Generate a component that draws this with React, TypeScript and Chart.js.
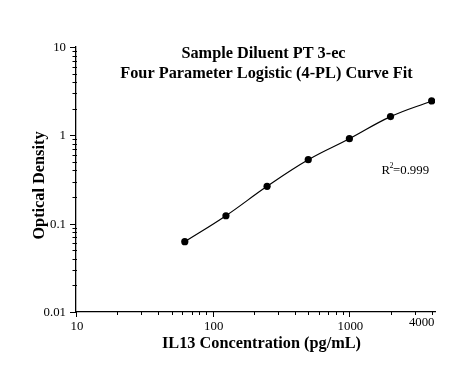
import React, { useEffect, useRef } from "react";
import { Chart, registerables } from "chart.js";

Chart.register(...registerables);

// ---- data ----
const CONCENTRATIONS = [62.5, 125, 250, 500, 1000, 2000, 4000];
const OPTICAL_DENSITY = [0.0625, 0.123, 0.265, 0.53, 0.916, 1.63, 2.45];

// ---- axes ----
const X_MIN = 10;
const X_MAX = 4230;
const Y_MIN = 0.01;
const Y_MAX = 10;
const X_MAJOR_TICKS = [10, 100, 1000];
const X_MINOR_TICKS = [20, 30, 40, 50, 60, 70, 80, 90, 200, 300, 400, 500, 600, 700, 800, 900, 2000, 3000, 4000];
const X_LABEL_VALUES = [10, 100, 1000, 4000];
const X_TICK_LABELS = ["10", "100", "1000", "4000"];
const Y_MAJOR_TICKS = [0.01, 0.1, 1, 10];
const Y_TICK_LABELS = ["0.01", "0.1", "1", "10"];
const Y_MINOR_TICKS = [
  0.02, 0.03, 0.04, 0.05, 0.06, 0.07, 0.08, 0.09,
  0.2, 0.3, 0.4, 0.5, 0.6, 0.7, 0.8, 0.9,
  2, 3, 4, 5, 6, 7, 8, 9,
];

// ---- text ----
const TITLE_LINES = ["Sample Diluent PT 3-ec", "Four Parameter Logistic (4-PL) Curve Fit"];
const X_TITLE = "IL13 Concentration (pg/mL)";
const Y_TITLE = "Optical Density";
const R2_PREFIX = "R";
const R2_SUP = "2";
const R2_VALUE = "=0.999";

const SERIF = '"Liberation Serif", "Times New Roman", serif';

const decorPlugin = {
  id: "decor",
  afterDraw(chart: any) {
    const ctx = chart.ctx as CanvasRenderingContext2D;
    const { left, right, top, bottom } = chart.chartArea;
    const xs = chart.scales.x;
    const ys = chart.scales.y;
    ctx.save();
    ctx.strokeStyle = "#000";
    ctx.fillStyle = "#000";
    ctx.lineWidth = 1;

    // x tick marks
    ctx.beginPath();
    X_MAJOR_TICKS.forEach((v) => {
      const px = Math.round(xs.getPixelForValue(v)) + 0.5;
      ctx.moveTo(px, bottom);
      ctx.lineTo(px, bottom + 5);
    });
    X_MINOR_TICKS.forEach((v) => {
      const px = Math.round(xs.getPixelForValue(v)) + 0.5;
      ctx.moveTo(px, bottom - 1);
      ctx.lineTo(px, bottom + 3);
    });
    // y tick marks
    Y_MAJOR_TICKS.forEach((v) => {
      const py = Math.round(ys.getPixelForValue(v)) + 0.5;
      ctx.moveTo(left - 6, py);
      ctx.lineTo(left, py);
    });
    Y_MINOR_TICKS.forEach((v) => {
      const py = Math.round(ys.getPixelForValue(v)) + 0.5;
      ctx.moveTo(left - 3.5, py);
      ctx.lineTo(left + 1, py);
    });
    ctx.stroke();

    // tick labels
    ctx.font = `12.8px ${SERIF}`;
    ctx.textAlign = "center";
    ctx.textBaseline = "alphabetic";
    X_LABEL_VALUES.forEach((v, i) => {
      const last = i === X_LABEL_VALUES.length - 1;
      const px = xs.getPixelForValue(v) + (last ? -10 : 1);
      ctx.fillText(X_TICK_LABELS[i], px, bottom + (last ? 14 : 18));
    });
    ctx.textAlign = "right";
    ctx.textBaseline = "middle";
    Y_MAJOR_TICKS.forEach((v, i) => {
      const py = ys.getPixelForValue(v);
      ctx.fillText(Y_TICK_LABELS[i], left - 10, py + 0.5);
    });

    // title
    ctx.font = `bold 16.3px ${SERIF}`;
    ctx.textAlign = "center";
    ctx.textBaseline = "alphabetic";
    ctx.fillText(TITLE_LINES[0], left + 187.5, top + 10.8);
    ctx.fillText(TITLE_LINES[1], left + 190.5, top + 30.5);

    // axis titles
    ctx.font = `bold 16.3px ${SERIF}`;
    ctx.fillText(X_TITLE, left + 185.5, bottom + 36);
    ctx.save();
    ctx.translate(left - 32, (top + bottom) / 2 + 6);
    ctx.rotate(-Math.PI / 2);
    ctx.fillText(Y_TITLE, 0, 0);
    ctx.restore();

    // R^2 annotation
    ctx.textAlign = "left";
    ctx.font = `12.8px ${SERIF}`;
    let rx = right - 53.5;
    const ry = top + 126.5;
    ctx.fillText(R2_PREFIX, rx, ry);
    rx += ctx.measureText(R2_PREFIX).width;
    ctx.font = `8px ${SERIF}`;
    ctx.fillText(R2_SUP, rx - 0.5, ry - 6);
    rx += ctx.measureText(R2_SUP).width - 1;
    ctx.font = `12.8px ${SERIF}`;
    ctx.fillText(R2_VALUE, rx, ry);

    ctx.restore();
  },
};

export default function App() {
  const canvasRef = useRef<HTMLCanvasElement | null>(null);

  useEffect(() => {
    const canvas = canvasRef.current;
    if (!canvas) return;
    const chart = new Chart(canvas, {
      type: "line",
      data: {
        datasets: [
          {
            data: CONCENTRATIONS.map((c, i) => ({ x: c, y: OPTICAL_DENSITY[i] })),
            borderColor: "#000",
            backgroundColor: "#000",
            borderWidth: 1.2,
            pointRadius: 3.6,
            pointBorderWidth: 0,
            pointBackgroundColor: "#000",
            tension: 0.4,
            fill: false,
          },
        ],
      },
      options: {
        animation: false,
        responsive: true,
        maintainAspectRatio: false,
        devicePixelRatio: 1,
        layout: { padding: { top: 47, right: 40, left: 0, bottom: 0 } },
        plugins: {
          legend: { display: false },
          tooltip: { enabled: false },
          title: { display: false },
        },
        scales: {
          x: {
            type: "logarithmic",
            min: X_MIN,
            max: X_MAX,
            grid: { display: false },
            border: { display: true, color: "#000", width: 1.3 },
            ticks: { display: false },
            afterFit(scale: any) {
              scale.height = 61;
            },
          },
          y: {
            type: "logarithmic",
            min: Y_MIN,
            max: Y_MAX,
            grid: { display: false },
            border: { display: true, color: "#000", width: 1.3 },
            ticks: { display: false },
            afterFit(scale: any) {
              scale.width = 76;
            },
          },
        },
      },
      plugins: [decorPlugin],
    });
    return () => chart.destroy();
  }, []);

  return (
    <div style={{ position: "fixed", left: 0, top: 0, width: 475, height: 373, background: "#fff" }}>
      <canvas ref={canvasRef} />
    </div>
  );
}
